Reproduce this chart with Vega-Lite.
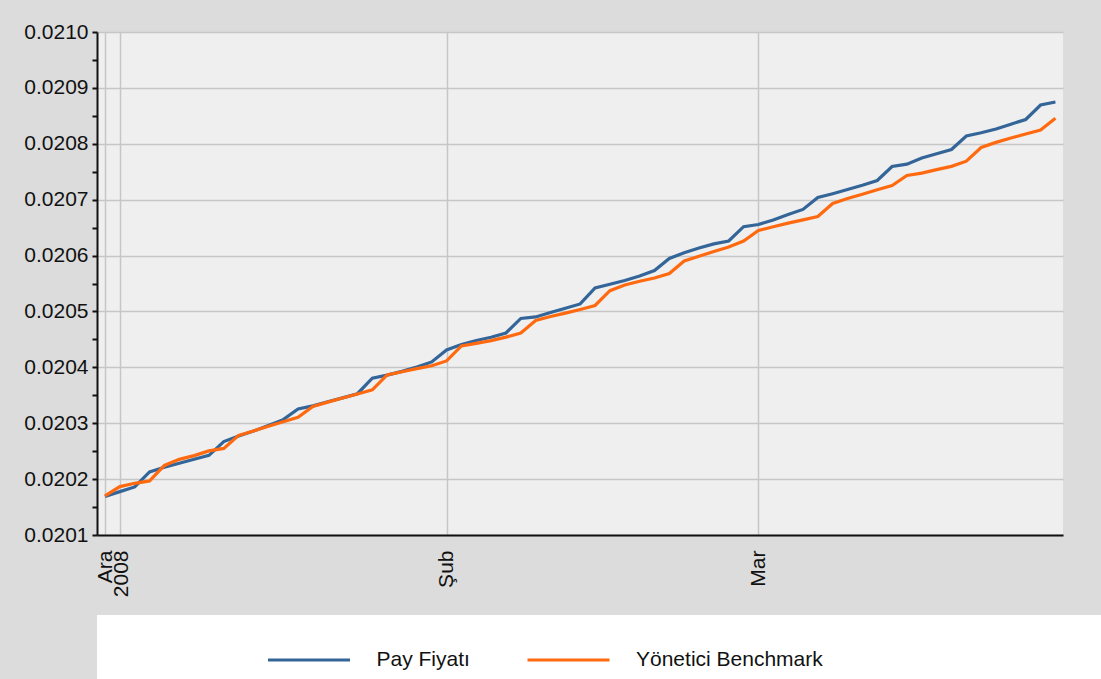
{
"$schema": "https://vega.github.io/schema/vega-lite/v6.json",
"background": "#dcdcdc",
"padding": {"left": 0, "top": 21, "right": 0, "bottom": 0},
"spacing": 0,
"config": {
  "font": "Liberation Sans",
  "view": {"stroke": null},
  "axis": {"labelFont": "Liberation Sans", "labelFontSize": 21, "labelColor": "#111111", "gridColor": "#c6c6c6", "gridWidth": 1.5, "domainColor": "#111111", "domainWidth": 2, "tickColor": "#111111", "title": null, "labelOverlap": false, "labelFlush": false}
},
"resolve": {"scale": {"x": "independent", "y": "independent"}},
"vconcat": [
{
  "width": 966, "height": 503,
  "view": {"fill": "#efefef", "stroke": null},
  "data": {"values": [
{"day":0,"series":"Pay Fiyatı","price":0.0201687},{"day":1,"series":"Pay Fiyatı","price":0.0201776},{"day":2,"series":"Pay Fiyatı","price":0.0201860},{"day":3,"series":"Pay Fiyatı","price":0.0202129},{"day":4,"series":"Pay Fiyatı","price":0.0202213},{"day":5,"series":"Pay Fiyatı","price":0.0202284},{"day":6,"series":"Pay Fiyatı","price":0.0202354},{"day":7,"series":"Pay Fiyatı","price":0.0202426},{"day":8,"series":"Pay Fiyatı","price":0.0202671},{"day":9,"series":"Pay Fiyatı","price":0.0202773},
{"day":10,"series":"Pay Fiyatı","price":0.0202859},{"day":11,"series":"Pay Fiyatı","price":0.0202961},{"day":12,"series":"Pay Fiyatı","price":0.0203064},{"day":13,"series":"Pay Fiyatı","price":0.0203256},{"day":14,"series":"Pay Fiyatı","price":0.0203311},{"day":15,"series":"Pay Fiyatı","price":0.0203383},{"day":16,"series":"Pay Fiyatı","price":0.0203454},{"day":17,"series":"Pay Fiyatı","price":0.0203528},{"day":18,"series":"Pay Fiyatı","price":0.0203805},{"day":19,"series":"Pay Fiyatı","price":0.0203860},
{"day":20,"series":"Pay Fiyatı","price":0.0203928},{"day":21,"series":"Pay Fiyatı","price":0.0204005},{"day":22,"series":"Pay Fiyatı","price":0.0204097},{"day":23,"series":"Pay Fiyatı","price":0.0204311},{"day":24,"series":"Pay Fiyatı","price":0.0204410},{"day":25,"series":"Pay Fiyatı","price":0.0204479},{"day":26,"series":"Pay Fiyatı","price":0.0204538},{"day":27,"series":"Pay Fiyatı","price":0.0204615},{"day":28,"series":"Pay Fiyatı","price":0.0204875},{"day":29,"series":"Pay Fiyatı","price":0.0204902},
{"day":30,"series":"Pay Fiyatı","price":0.0204982},{"day":31,"series":"Pay Fiyatı","price":0.0205057},{"day":32,"series":"Pay Fiyatı","price":0.0205134},{"day":33,"series":"Pay Fiyatı","price":0.0205420},{"day":34,"series":"Pay Fiyatı","price":0.0205487},{"day":35,"series":"Pay Fiyatı","price":0.0205553},{"day":36,"series":"Pay Fiyatı","price":0.0205635},{"day":37,"series":"Pay Fiyatı","price":0.0205733},{"day":38,"series":"Pay Fiyatı","price":0.0205948},{"day":39,"series":"Pay Fiyatı","price":0.0206052},
{"day":40,"series":"Pay Fiyatı","price":0.0206134},{"day":41,"series":"Pay Fiyatı","price":0.0206209},{"day":42,"series":"Pay Fiyatı","price":0.0206261},{"day":43,"series":"Pay Fiyatı","price":0.0206517},{"day":44,"series":"Pay Fiyatı","price":0.0206556},{"day":45,"series":"Pay Fiyatı","price":0.0206637},{"day":46,"series":"Pay Fiyatı","price":0.0206735},{"day":47,"series":"Pay Fiyatı","price":0.0206825},{"day":48,"series":"Pay Fiyatı","price":0.0207039},{"day":49,"series":"Pay Fiyatı","price":0.0207107},
{"day":50,"series":"Pay Fiyatı","price":0.0207181},{"day":51,"series":"Pay Fiyatı","price":0.0207258},{"day":52,"series":"Pay Fiyatı","price":0.0207343},{"day":53,"series":"Pay Fiyatı","price":0.0207594},{"day":54,"series":"Pay Fiyatı","price":0.0207635},{"day":55,"series":"Pay Fiyatı","price":0.0207746},{"day":56,"series":"Pay Fiyatı","price":0.0207823},{"day":57,"series":"Pay Fiyatı","price":0.0207898},{"day":58,"series":"Pay Fiyatı","price":0.0208140},{"day":59,"series":"Pay Fiyatı","price":0.0208197},
{"day":60,"series":"Pay Fiyatı","price":0.0208263},{"day":61,"series":"Pay Fiyatı","price":0.0208351},{"day":62,"series":"Pay Fiyatı","price":0.0208435},{"day":63,"series":"Pay Fiyatı","price":0.0208694},{"day":64,"series":"Pay Fiyatı","price":0.0208748},
{"day":0,"series":"Yönetici Benchmark","price":0.0201700},{"day":1,"series":"Yönetici Benchmark","price":0.0201866},{"day":2,"series":"Yönetici Benchmark","price":0.0201925},{"day":3,"series":"Yönetici Benchmark","price":0.0201968},{"day":4,"series":"Yönetici Benchmark","price":0.0202245},{"day":5,"series":"Yönetici Benchmark","price":0.0202354},{"day":6,"series":"Yönetici Benchmark","price":0.0202420},{"day":7,"series":"Yönetici Benchmark","price":0.0202505},{"day":8,"series":"Yönetici Benchmark","price":0.0202549},{"day":9,"series":"Yönetici Benchmark","price":0.0202782},
{"day":10,"series":"Yönetici Benchmark","price":0.0202862},{"day":11,"series":"Yönetici Benchmark","price":0.0202945},{"day":12,"series":"Yönetici Benchmark","price":0.0203027},{"day":13,"series":"Yönetici Benchmark","price":0.0203104},{"day":14,"series":"Yönetici Benchmark","price":0.0203301},{"day":15,"series":"Yönetici Benchmark","price":0.0203378},{"day":16,"series":"Yönetici Benchmark","price":0.0203451},{"day":17,"series":"Yönetici Benchmark","price":0.0203522},{"day":18,"series":"Yönetici Benchmark","price":0.0203596},{"day":19,"series":"Yönetici Benchmark","price":0.0203864},
{"day":20,"series":"Yönetici Benchmark","price":0.0203921},{"day":21,"series":"Yönetici Benchmark","price":0.0203977},{"day":22,"series":"Yönetici Benchmark","price":0.0204029},{"day":23,"series":"Yönetici Benchmark","price":0.0204115},{"day":24,"series":"Yönetici Benchmark","price":0.0204383},{"day":25,"series":"Yönetici Benchmark","price":0.0204428},{"day":26,"series":"Yönetici Benchmark","price":0.0204478},{"day":27,"series":"Yönetici Benchmark","price":0.0204540},{"day":28,"series":"Yönetici Benchmark","price":0.0204615},{"day":29,"series":"Yönetici Benchmark","price":0.0204839},
{"day":30,"series":"Yönetici Benchmark","price":0.0204909},{"day":31,"series":"Yönetici Benchmark","price":0.0204970},{"day":32,"series":"Yönetici Benchmark","price":0.0205036},{"day":33,"series":"Yönetici Benchmark","price":0.0205107},{"day":34,"series":"Yönetici Benchmark","price":0.0205372},{"day":35,"series":"Yönetici Benchmark","price":0.0205474},{"day":36,"series":"Yönetici Benchmark","price":0.0205540},{"day":37,"series":"Yönetici Benchmark","price":0.0205599},{"day":38,"series":"Yönetici Benchmark","price":0.0205680},{"day":39,"series":"Yönetici Benchmark","price":0.0205903},
{"day":40,"series":"Yönetici Benchmark","price":0.0205988},{"day":41,"series":"Yönetici Benchmark","price":0.0206073},{"day":42,"series":"Yönetici Benchmark","price":0.0206154},{"day":43,"series":"Yönetici Benchmark","price":0.0206261},{"day":44,"series":"Yönetici Benchmark","price":0.0206449},{"day":45,"series":"Yönetici Benchmark","price":0.0206515},{"day":46,"series":"Yönetici Benchmark","price":0.0206580},{"day":47,"series":"Yönetici Benchmark","price":0.0206639},{"day":48,"series":"Yönetici Benchmark","price":0.0206699},{"day":49,"series":"Yönetici Benchmark","price":0.0206932},
{"day":50,"series":"Yönetici Benchmark","price":0.0207020},{"day":51,"series":"Yönetici Benchmark","price":0.0207097},{"day":52,"series":"Yönetici Benchmark","price":0.0207177},{"day":53,"series":"Yönetici Benchmark","price":0.0207254},{"day":54,"series":"Yönetici Benchmark","price":0.0207433},{"day":55,"series":"Yönetici Benchmark","price":0.0207476},{"day":56,"series":"Yönetici Benchmark","price":0.0207537},{"day":57,"series":"Yönetici Benchmark","price":0.0207596},{"day":58,"series":"Yönetici Benchmark","price":0.0207689},{"day":59,"series":"Yönetici Benchmark","price":0.0207934},
{"day":60,"series":"Yönetici Benchmark","price":0.0208025},{"day":61,"series":"Yönetici Benchmark","price":0.0208102},{"day":62,"series":"Yönetici Benchmark","price":0.0208175},{"day":63,"series":"Yönetici Benchmark","price":0.0208247},{"day":64,"series":"Yönetici Benchmark","price":0.0208456}
  ]},
  "mark": {"type": "line", "strokeWidth": 3.2},
  "encoding": {
    "x": {"field": "day", "type": "quantitative",
      "scale": {"domain": [-0.539, 64.51], "nice": false, "zero": false},
      "axis": {"values": [0, 1, 23, 44], "labelAngle": -90, "ticks": false, "labelPadding": 15, "grid": true,
        "labelExpr": "datum.value == 0 ? ['Ara', '2008'] : datum.value == 23 ? 'Şub' : datum.value == 44 ? 'Mar' : ''",
        "labelLineHeight": 16, "minExtent": 80, "maxExtent": 80}},
    "y": {"field": "price", "type": "quantitative",
      "scale": {"domain": [0.0201, 0.0210], "nice": false, "zero": false},
      "axis": {"values": [0.0201,0.02015,0.0202,0.02025,0.0203,0.02035,0.0204,0.02045,0.0205,0.02055,0.0206,0.02065,0.0207,0.02075,0.0208,0.02085,0.0209,0.02095,0.021],
        "labelExpr": "round(datum.value*20000) % 2 == 0 ? format(datum.value, '.4f') : ''",
        "gridOpacity": {"condition": {"test": "round(datum.value*20000) % 2 == 1", "value": 0}, "value": 1},
        "tickSize": 5, "tickWidth": 2, "labelPadding": 4, "minExtent": 97, "maxExtent": 97}},
    "color": {"field": "series", "type": "nominal",
      "scale": {"domain": ["Pay Fiyatı", "Yönetici Benchmark"], "range": ["#346598", "#ff6a10"]}, "legend": null}
  }
},
{
  "width": 1004, "height": 64,
  "view": {"fill": "#ffffff", "stroke": null},
  "data": {"values": [{"series": "Pay Fiyatı"}, {"series": "Yönetici Benchmark"}]},
  "encoding": {"x": {"field": "series", "type": "nominal", "scale": {"type": "band", "paddingInner": 0, "paddingOuter": 0.9345, "align": 0.1696}, "axis": null}},
  "layer": [
    {"mark": {"type": "point", "shape": "stroke", "size": 6724, "strokeWidth": 3, "filled": false, "opacity": 1, "yOffset": 13},
     "encoding": {"color": {"field": "series", "type": "nominal", "scale": {"domain": ["Pay Fiyatı", "Yönetici Benchmark"], "range": ["#346598", "#ff6a10"]}, "legend": null}}},
    {"mark": {"type": "text", "align": "left", "baseline": "middle", "dx": 67.5, "yOffset": 13, "fontSize": 21, "font": "Liberation Sans", "color": "#111111"},
     "encoding": {"text": {"field": "series"}}}
  ]
}
]
}
